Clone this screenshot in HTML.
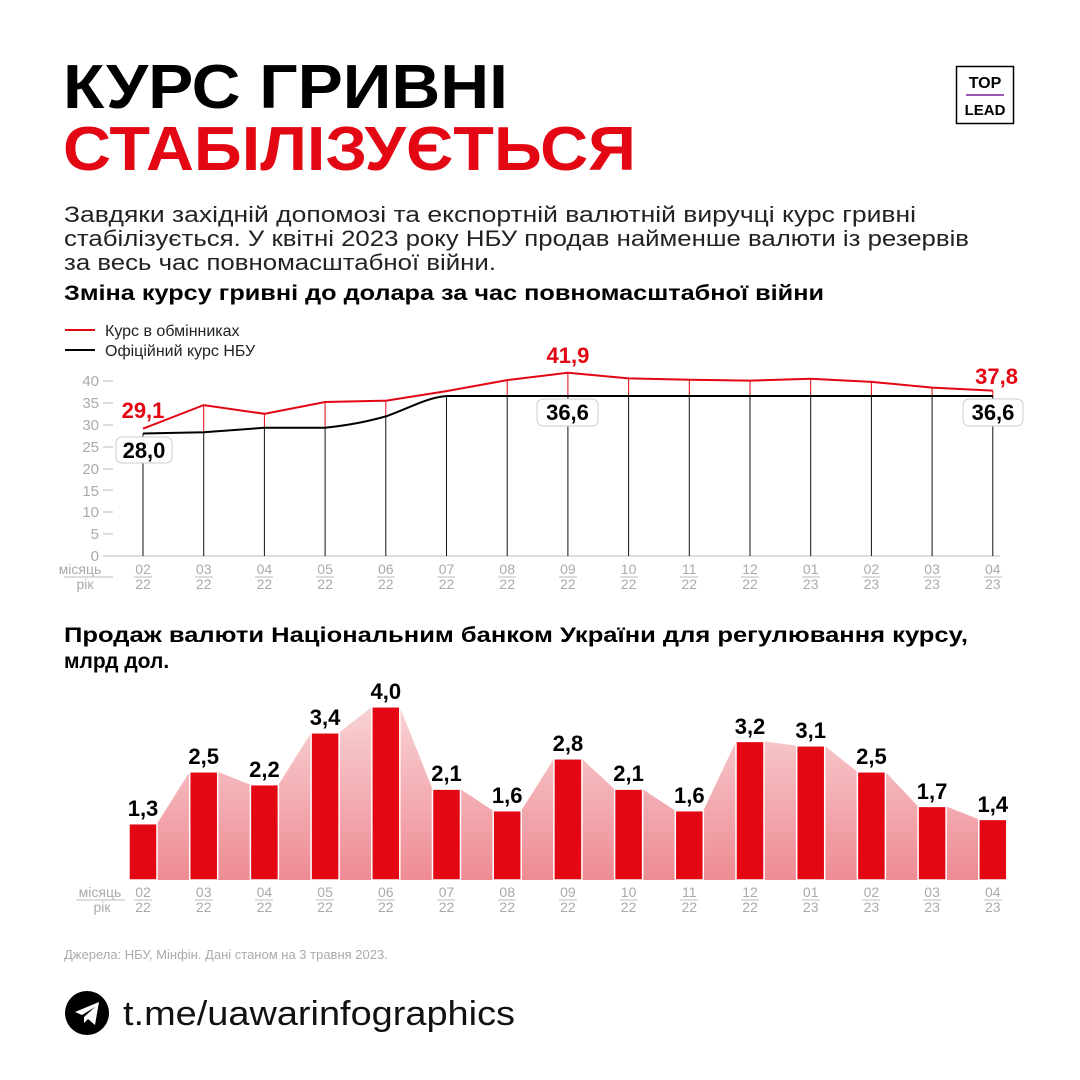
<!DOCTYPE html>
<html><head><meta charset="utf-8"><style>
html,body{margin:0;padding:0;background:#fff;}
svg{display:block;font-family:"Liberation Sans",sans-serif;}
</style></head><body>
<svg width="1080" height="1080" viewBox="0 0 1080 1080" xmlns="http://www.w3.org/2000/svg">
<defs>
<linearGradient id="ga" x1="0" y1="0" x2="0" y2="1" gradientUnits="objectBoundingBox">
<stop offset="0" stop-color="#f8d3d5"/><stop offset="1" stop-color="#ee8b93"/></linearGradient>
</defs>
<rect width="1080" height="1080" fill="#fff"/>
<!-- Title -->
<text x="63" y="108" font-size="62" font-weight="bold" fill="#000" textLength="445" lengthAdjust="spacingAndGlyphs">КУРС ГРИВНІ</text>
<text x="63" y="170" font-size="62" font-weight="bold" fill="#e30613" textLength="573" lengthAdjust="spacingAndGlyphs">СТАБІЛІЗУЄТЬСЯ</text>
<!-- Logo -->
<rect x="956.5" y="66.5" width="57" height="57" fill="#fff" stroke="#000" stroke-width="1.5"/>
<text x="985" y="88" font-size="16" font-weight="bold" text-anchor="middle" fill="#000">TOP</text>
<line x1="966" y1="95" x2="1004" y2="95" stroke="#9b59b6" stroke-width="2"/>
<text x="985" y="115" font-size="15" font-weight="bold" text-anchor="middle" fill="#000">LEAD</text>
<!-- Paragraph -->
<g font-size="22" fill="#222">
<text x="64" y="222" textLength="852" lengthAdjust="spacingAndGlyphs">Завдяки західній допомозі та експортній валютній виручці курс гривні</text>
<text x="64" y="246" textLength="905" lengthAdjust="spacingAndGlyphs">стабілізується. У квітні 2023 року НБУ продав найменше валюти із резервів</text>
<text x="64" y="270" textLength="432" lengthAdjust="spacingAndGlyphs">за весь час повномасштабної війни.</text>
</g>
<text x="64" y="300" font-size="21" font-weight="bold" fill="#000" textLength="760" lengthAdjust="spacingAndGlyphs">Зміна курсу гривні до долара за час повномасштабної війни</text>
<!-- Legend -->
<line x1="65" y1="330" x2="95" y2="330" stroke="#e30613" stroke-width="2"/>
<text x="105" y="336" font-size="16" fill="#222">Курс в обмінниках</text>
<line x1="65" y1="350" x2="95" y2="350" stroke="#000" stroke-width="2"/>
<text x="105" y="356" font-size="16" fill="#222">Офіційний курс НБУ</text>
<!-- Y axis -->
<g font-size="15" fill="#aaa" text-anchor="end">
<text x="99" y="386">40</text><text x="99" y="408">35</text><text x="99" y="430">30</text><text x="99" y="452">25</text><text x="99" y="474">20</text><text x="99" y="496">15</text><text x="99" y="517">10</text><text x="99" y="539">5</text><text x="99" y="561">0</text>
</g>
<g stroke="#bbb" stroke-width="1">
<line x1="103" y1="381" x2="113" y2="381"/><line x1="103" y1="403" x2="113" y2="403"/><line x1="103" y1="425" x2="113" y2="425"/><line x1="103" y1="447" x2="113" y2="447"/><line x1="103" y1="469" x2="113" y2="469"/><line x1="103" y1="490" x2="113" y2="490"/><line x1="103" y1="512" x2="113" y2="512"/><line x1="103" y1="534" x2="113" y2="534"/><line x1="103" y1="556" x2="113" y2="556"/>
<line x1="113" y1="556" x2="1000" y2="556"/>
</g>
<!-- verticals -->
<g stroke="#e30613" stroke-width="1">
<line x1="203.7" y1="405.1" x2="203.7" y2="432.2"/><line x1="264.4" y1="413.8" x2="264.4" y2="427.8"/><line x1="325.1" y1="402" x2="325.1" y2="427.8"/><line x1="385.8" y1="400.7" x2="385.8" y2="416.4"/><line x1="507.2" y1="380.1" x2="507.2" y2="396"/><line x1="567.9" y1="372.7" x2="567.9" y2="396"/><line x1="628.6" y1="378.4" x2="628.6" y2="396"/><line x1="689.3" y1="379.7" x2="689.3" y2="396"/><line x1="750" y1="380.6" x2="750" y2="396"/><line x1="810.7" y1="378.8" x2="810.7" y2="396"/><line x1="871.4" y1="381.9" x2="871.4" y2="396"/><line x1="932.1" y1="387.6" x2="932.1" y2="396"/><line x1="992.8" y1="390.6" x2="992.8" y2="396"/>
</g>
<g stroke="#111" stroke-width="1">
<line x1="143" y1="433.5" x2="143" y2="556"/><line x1="203.7" y1="432.2" x2="203.7" y2="556"/><line x1="264.4" y1="427.8" x2="264.4" y2="556"/><line x1="325.1" y1="427.8" x2="325.1" y2="556"/><line x1="385.8" y1="416.4" x2="385.8" y2="556"/><line x1="446.5" y1="396" x2="446.5" y2="556"/><line x1="507.2" y1="396" x2="507.2" y2="556"/><line x1="567.9" y1="396" x2="567.9" y2="556"/><line x1="628.6" y1="396" x2="628.6" y2="556"/><line x1="689.3" y1="396" x2="689.3" y2="556"/><line x1="750" y1="396" x2="750" y2="556"/><line x1="810.7" y1="396" x2="810.7" y2="556"/><line x1="871.4" y1="396" x2="871.4" y2="556"/><line x1="932.1" y1="396" x2="932.1" y2="556"/><line x1="992.8" y1="396" x2="992.8" y2="556"/>
</g>
<polyline fill="none" stroke="#e30613" stroke-width="2" points="143,428.7 203.7,405.1 264.4,413.8 325.1,402 385.8,400.7 446.5,391.1 507.2,380.1 567.9,372.7 628.6,378.4 689.3,379.7 750,380.6 810.7,378.8 871.4,381.9 932.1,387.6 992.8,390.6"/>
<path fill="none" stroke="#000" stroke-width="2" d="M143,433.5 L203.7,432.2 L264.4,427.8 L325.1,427.8 C350,425 365,422 385.8,416.4 C410,408 425,398 446.5,396 L992.8,396"/>
<!-- line labels -->
<g font-size="22" font-weight="bold">
<text x="143" y="418" fill="#e30613" text-anchor="middle">29,1</text>
<text x="567.9" y="363" fill="#e30613" text-anchor="middle">41,9</text>
<text x="1018" y="384" fill="#e30613" text-anchor="end">37,8</text>
</g>
<rect x="116" y="437" width="56" height="26" rx="6" fill="#fff" stroke="#ccc"/>
<rect x="537" y="399" width="61" height="27" rx="6" fill="#fff" stroke="#ccc"/>
<rect x="963" y="399" width="60" height="27" rx="6" fill="#fff" stroke="#ccc"/>
<g font-size="22" font-weight="bold" fill="#000" text-anchor="middle">
<text x="144" y="458">28,0</text><text x="567.5" y="420">36,6</text><text x="993" y="420">36,6</text>
</g>
<!-- x labels chart 1 -->
<g font-size="14" fill="#aaa" text-anchor="middle">
<text x="80" y="574">місяць</text><text x="85" y="589">рік</text>
<text x="143" y="574">02</text><text x="143" y="589">22</text>
<text x="203.7" y="574">03</text><text x="203.7" y="589">22</text>
<text x="264.4" y="574">04</text><text x="264.4" y="589">22</text>
<text x="325.1" y="574">05</text><text x="325.1" y="589">22</text>
<text x="385.8" y="574">06</text><text x="385.8" y="589">22</text>
<text x="446.5" y="574">07</text><text x="446.5" y="589">22</text>
<text x="507.2" y="574">08</text><text x="507.2" y="589">22</text>
<text x="567.9" y="574">09</text><text x="567.9" y="589">22</text>
<text x="628.6" y="574">10</text><text x="628.6" y="589">22</text>
<text x="689.3" y="574">11</text><text x="689.3" y="589">22</text>
<text x="750" y="574">12</text><text x="750" y="589">22</text>
<text x="810.7" y="574">01</text><text x="810.7" y="589">23</text>
<text x="871.4" y="574">02</text><text x="871.4" y="589">23</text>
<text x="932.1" y="574">03</text><text x="932.1" y="589">23</text>
<text x="992.8" y="574">04</text><text x="992.8" y="589">23</text>
</g>
<g stroke="#bbb" stroke-width="1">
<line x1="64" y1="577" x2="113" y2="577"/>
<line x1="134" y1="577" x2="152" y2="577"/><line x1="195" y1="577" x2="213" y2="577"/><line x1="255" y1="577" x2="273" y2="577"/><line x1="316" y1="577" x2="334" y2="577"/><line x1="377" y1="577" x2="395" y2="577"/><line x1="437" y1="577" x2="455" y2="577"/><line x1="498" y1="577" x2="516" y2="577"/><line x1="559" y1="577" x2="577" y2="577"/><line x1="620" y1="577" x2="638" y2="577"/><line x1="680" y1="577" x2="698" y2="577"/><line x1="741" y1="577" x2="759" y2="577"/><line x1="802" y1="577" x2="820" y2="577"/><line x1="862" y1="577" x2="880" y2="577"/><line x1="923" y1="577" x2="941" y2="577"/><line x1="984" y1="577" x2="1002" y2="577"/>
</g>
<!-- Bar chart heading -->
<g font-size="21" font-weight="bold" fill="#000">
<text x="64" y="642" textLength="904" lengthAdjust="spacingAndGlyphs">Продаж валюти Національним банком України для регулювання курсу,</text>
<text x="64" y="668">млрд дол.</text>
</g>
<polygon fill="url(#ga)" points="129,823.7 157,823.7 189.7,771.8 217.7,771.8 250.4,784.7 278.4,784.7 311.1,732.8 339.1,732.8 371.8,706.8 399.8,706.8 432.5,789.1 460.5,789.1 493.2,810.7 521.2,810.7 553.9,758.8 581.9,758.8 614.6,789.1 642.6,789.1 675.3,810.7 703.3,810.7 736,741.4 764,741.4 796.7,745.8 824.7,745.8 857.4,771.8 885.4,771.8 918.1,806.4 946.1,806.4 978.8,819.4 1006.8,819.4 1006.8,880 129,880"/>
<g fill="#e30613" stroke="#fff" stroke-width="1.5">
<rect x="129" y="823.7" width="28" height="56.3"/>
<rect x="189.7" y="771.8" width="28" height="108.2"/>
<rect x="250.4" y="784.7" width="28" height="95.3"/>
<rect x="311.1" y="732.8" width="28" height="147.2"/>
<rect x="371.8" y="706.8" width="28" height="173.2"/>
<rect x="432.5" y="789.1" width="28" height="90.9"/>
<rect x="493.2" y="810.7" width="28" height="69.3"/>
<rect x="553.9" y="758.8" width="28" height="121.2"/>
<rect x="614.6" y="789.1" width="28" height="90.9"/>
<rect x="675.3" y="810.7" width="28" height="69.3"/>
<rect x="736" y="741.4" width="28" height="138.6"/>
<rect x="796.7" y="745.8" width="28" height="134.2"/>
<rect x="857.4" y="771.8" width="28" height="108.2"/>
<rect x="918.1" y="806.4" width="28" height="73.6"/>
<rect x="978.8" y="819.4" width="28" height="60.6"/>
</g>
<g font-size="22" font-weight="bold" fill="#000" text-anchor="middle">
<text x="143" y="816">1,3</text>
<text x="203.7" y="764">2,5</text>
<text x="264.4" y="777">2,2</text>
<text x="325.1" y="725">3,4</text>
<text x="385.8" y="699">4,0</text>
<text x="446.5" y="781">2,1</text>
<text x="507.2" y="803">1,6</text>
<text x="567.9" y="751">2,8</text>
<text x="628.6" y="781">2,1</text>
<text x="689.3" y="803">1,6</text>
<text x="750" y="734">3,2</text>
<text x="810.7" y="738">3,1</text>
<text x="871.4" y="764">2,5</text>
<text x="932.1" y="799">1,7</text>
<text x="992.8" y="812">1,4</text>
</g>
<!-- x labels chart 2 -->
<g font-size="14" fill="#aaa" text-anchor="middle">
<text x="100" y="897">місяць</text><text x="102" y="912">рік</text>
<text x="143" y="897">02</text><text x="143" y="912">22</text>
<text x="203.7" y="897">03</text><text x="203.7" y="912">22</text>
<text x="264.4" y="897">04</text><text x="264.4" y="912">22</text>
<text x="325.1" y="897">05</text><text x="325.1" y="912">22</text>
<text x="385.8" y="897">06</text><text x="385.8" y="912">22</text>
<text x="446.5" y="897">07</text><text x="446.5" y="912">22</text>
<text x="507.2" y="897">08</text><text x="507.2" y="912">22</text>
<text x="567.9" y="897">09</text><text x="567.9" y="912">22</text>
<text x="628.6" y="897">10</text><text x="628.6" y="912">22</text>
<text x="689.3" y="897">11</text><text x="689.3" y="912">22</text>
<text x="750" y="897">12</text><text x="750" y="912">22</text>
<text x="810.7" y="897">01</text><text x="810.7" y="912">23</text>
<text x="871.4" y="897">02</text><text x="871.4" y="912">23</text>
<text x="932.1" y="897">03</text><text x="932.1" y="912">23</text>
<text x="992.8" y="897">04</text><text x="992.8" y="912">23</text>
</g>
<g stroke="#bbb" stroke-width="1">
<line x1="76" y1="900" x2="125" y2="900"/>
<line x1="134" y1="900" x2="152" y2="900"/><line x1="195" y1="900" x2="213" y2="900"/><line x1="255" y1="900" x2="273" y2="900"/><line x1="316" y1="900" x2="334" y2="900"/><line x1="377" y1="900" x2="395" y2="900"/><line x1="437" y1="900" x2="455" y2="900"/><line x1="498" y1="900" x2="516" y2="900"/><line x1="559" y1="900" x2="577" y2="900"/><line x1="620" y1="900" x2="638" y2="900"/><line x1="680" y1="900" x2="698" y2="900"/><line x1="741" y1="900" x2="759" y2="900"/><line x1="802" y1="900" x2="820" y2="900"/><line x1="862" y1="900" x2="880" y2="900"/><line x1="923" y1="900" x2="941" y2="900"/><line x1="984" y1="900" x2="1002" y2="900"/>
</g>
<!-- Source -->
<text x="64" y="959" font-size="13" fill="#aaa">Джерела: НБУ, Мінфін. Дані станом на 3 травня 2023.</text>
<!-- Telegram -->
<circle cx="87" cy="1013" r="22" fill="#000"/>
<path d="M75,1012 L99,1002 L95,1025 L88,1019 L84,1023 L84,1017 L95,1007 L82,1015 Z" fill="#fff"/>
<text x="123" y="1025" font-size="34" fill="#111" textLength="392" lengthAdjust="spacingAndGlyphs">t.me/uawarinfographics</text>
</svg>
</body></html>
